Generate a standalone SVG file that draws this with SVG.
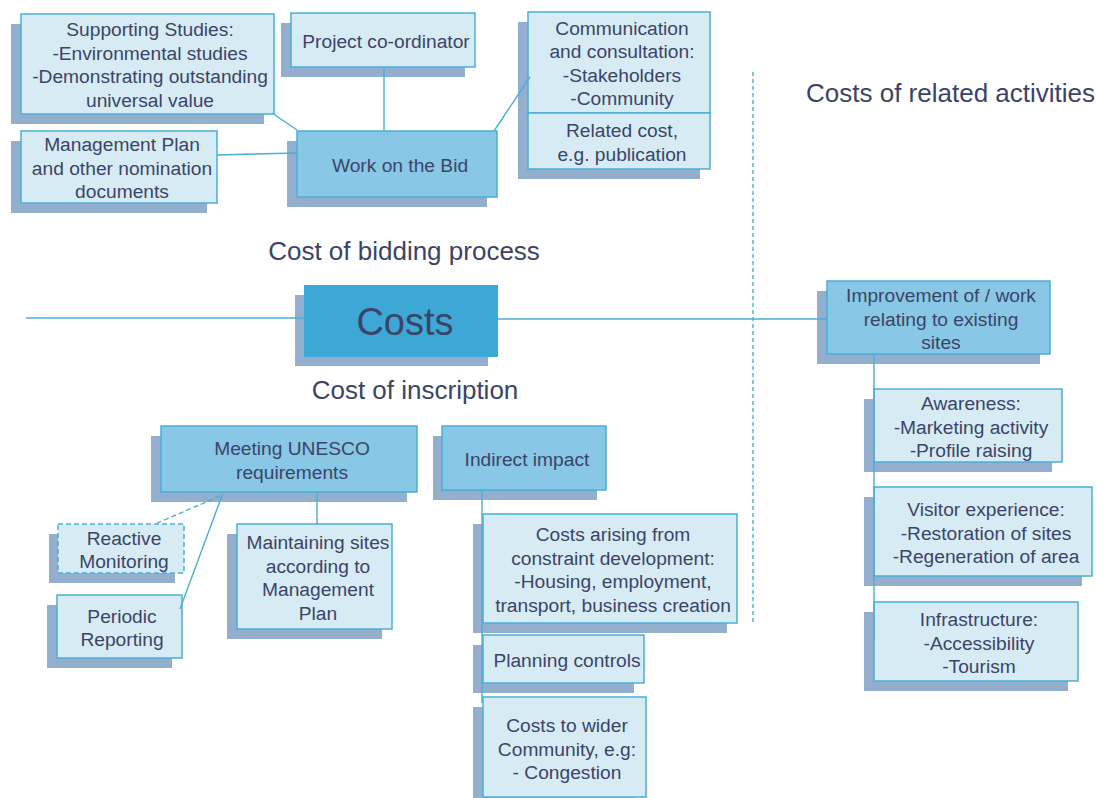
<svg xmlns="http://www.w3.org/2000/svg" width="1097" height="798" viewBox="0 0 1097 798">
<style>
.sh{fill:#93afcd;}
.lt{fill:#d7ebf5;stroke:#4aaed9;stroke-width:1.5;}
.md{fill:#88c7e5;stroke:#4aaed9;stroke-width:1.5;}
.main{fill:#3da8d6;}
.dash{stroke-dasharray:5 3;}
text{font-family:"Liberation Sans",Arial,sans-serif;fill:#3b4468;}
.t{font-size:19.2px;text-anchor:middle;}
.h{font-size:26px;}
.c{stroke:#4aaed9;stroke-width:1.4;fill:none;}
</style>
<rect width="1097" height="798" fill="#ffffff"/>
<g id="labels">
<text class="h" x="404" y="260" text-anchor="middle">Cost of bidding process</text>
<text class="h" x="415" y="399" text-anchor="middle">Cost of inscription</text>
<text class="h" x="806" y="102">Costs of related activities</text>
</g>
<g id="supporting-studies">
<rect class="sh" x="11" y="24" width="253" height="100"/>
<rect class="lt" x="21" y="14" width="253" height="100"/>
<text class="t" x="150" y="36"><tspan x="150">Supporting Studies:</tspan><tspan x="150" dy="23.5">-Environmental studies</tspan><tspan x="150" dy="23.5">-Demonstrating outstanding</tspan><tspan x="150" dy="23.5">universal value</tspan></text>
</g>
<g id="project-coordinator">
<rect class="sh" x="281" y="23" width="184" height="54"/>
<rect class="lt" x="291" y="13" width="184" height="54"/>
<text class="t" x="386" y="47.5">Project co-ordinator</text>
</g>
<g id="communication">
<rect class="sh" x="518" y="22" width="182" height="101"/>
<rect class="lt" x="528" y="12" width="182" height="101"/>
<text class="t" x="622" y="34.5"><tspan x="622">Communication</tspan><tspan x="622" dy="23.5">and consultation:</tspan><tspan x="622" dy="23.5">-Stakeholders</tspan><tspan x="622" dy="23.5">-Community</tspan></text>
</g>
<g id="related-cost">
<rect class="sh" x="518" y="123" width="182" height="56"/>
<rect class="lt" x="528" y="113" width="182" height="56"/>
<text class="t" x="622" y="137"><tspan x="622">Related cost,</tspan><tspan x="622" dy="23.5">e.g. publication</tspan></text>
</g>
<g id="management-plan">
<rect class="sh" x="11" y="141" width="196" height="72"/>
<rect class="lt" x="21" y="131" width="196" height="72"/>
<text class="t" x="122" y="151"><tspan x="122">Management Plan</tspan><tspan x="122" dy="23.5">and other nomination</tspan><tspan x="122" dy="23.5">documents</tspan></text>
</g>
<g id="work-on-the-bid">
<rect class="sh" x="287" y="141" width="200" height="66"/>
<rect class="md" x="297" y="131" width="200" height="66"/>
<text class="t" x="400" y="171.5">Work on the Bid</text>
</g>
<g id="costs">
<rect class="sh" x="295" y="295" width="193" height="71"/>
<rect class="main" x="304" y="285" width="194" height="72"/>
<text x="405" y="335" font-size="38" text-anchor="middle">Costs</text>
</g>
<g id="improvement">
<rect class="sh" x="817" y="291" width="223" height="73"/>
<rect class="md" x="827" y="281" width="223" height="73"/>
<text class="t" x="941" y="302"><tspan x="941">Improvement of / work</tspan><tspan x="941" dy="23.5">relating to existing</tspan><tspan x="941" dy="23.5">sites</tspan></text>
</g>
<g id="awareness">
<rect class="sh" x="864" y="399" width="188" height="73"/>
<rect class="lt" x="874" y="389" width="188" height="73"/>
<text class="t" x="971" y="410"><tspan x="971">Awareness:</tspan><tspan x="971" dy="23.5">-Marketing activity</tspan><tspan x="971" dy="23.5">-Profile raising</tspan></text>
</g>
<g id="visitor-experience">
<rect class="sh" x="864" y="497" width="218" height="89"/>
<rect class="lt" x="874" y="487" width="218" height="89"/>
<text class="t" x="986" y="516"><tspan x="986">Visitor experience:</tspan><tspan x="986" dy="23.5">-Restoration of sites</tspan><tspan x="986" dy="23.5">-Regeneration of area</tspan></text>
</g>
<g id="infrastructure">
<rect class="sh" x="864" y="612" width="204" height="79"/>
<rect class="lt" x="874" y="602" width="204" height="79"/>
<text class="t" x="979" y="626"><tspan x="979">Infrastructure:</tspan><tspan x="979" dy="23.5">-Accessibility</tspan><tspan x="979" dy="23.5">-Tourism</tspan></text>
</g>
<g id="meeting-unesco">
<rect class="sh" x="151" y="436" width="256" height="66"/>
<rect class="md" x="161" y="426" width="256" height="66"/>
<text class="t" x="292" y="455"><tspan x="292">Meeting UNESCO</tspan><tspan x="292" dy="23.5">requirements</tspan></text>
</g>
<g id="indirect-impact">
<rect class="sh" x="433" y="436" width="164" height="64"/>
<rect class="md" x="442" y="426" width="164" height="64"/>
<text class="t" x="527" y="466">Indirect impact</text>
</g>
<g id="reactive-monitoring">
<rect class="sh" x="49" y="534" width="126" height="49"/>
<rect class="lt dash" x="58" y="524" width="126" height="49"/>
<text class="t" x="124" y="544.5"><tspan x="124">Reactive</tspan><tspan x="124" dy="23.5">Monitoring</tspan></text>
</g>
<g id="periodic-reporting">
<rect class="sh" x="47" y="605" width="125" height="63"/>
<rect class="lt" x="57" y="595" width="125" height="63"/>
<text class="t" x="122" y="622.5"><tspan x="122">Periodic</tspan><tspan x="122" dy="23.5">Reporting</tspan></text>
</g>
<g id="maintaining-sites">
<rect class="sh" x="227" y="534" width="155" height="105"/>
<rect class="lt" x="237" y="524" width="155" height="105"/>
<text class="t" x="318" y="549"><tspan x="318">Maintaining sites</tspan><tspan x="318" dy="23.5">according to</tspan><tspan x="318" dy="23.5">Management</tspan><tspan x="318" dy="23.5">Plan</tspan></text>
</g>
<g id="costs-arising">
<rect class="sh" x="473" y="524" width="254" height="109"/>
<rect class="lt" x="483" y="514" width="254" height="109"/>
<text class="t" x="613" y="541"><tspan x="613">Costs arising from</tspan><tspan x="613" dy="23.5">constraint development:</tspan><tspan x="613" dy="23.5">-Housing, employment,</tspan><tspan x="613" dy="23.5">transport, business creation</tspan></text>
</g>
<g id="planning-controls">
<rect class="sh" x="473" y="645" width="161" height="48"/>
<rect class="lt" x="483" y="635" width="161" height="48"/>
<text class="t" x="567" y="667">Planning controls</text>
</g>
<g id="costs-wider-community">
<rect class="sh" x="473" y="707" width="163" height="100"/>
<rect class="lt" x="483" y="697" width="163" height="100"/>
<text class="t" x="567" y="732"><tspan x="567">Costs to wider</tspan><tspan x="567" dy="23.5">Community, e.g:</tspan><tspan x="567" dy="23.5">- Congestion</tspan></text>
</g>
<g id="connectors">
<line class="c" x1="272" y1="113" x2="297" y2="130"/>
<line class="c" x1="217" y1="155" x2="297" y2="153"/>
<line class="c" x1="384" y1="67" x2="384" y2="131"/>
<line class="c" x1="494" y1="131" x2="530" y2="77"/>
<line class="c" x1="26" y1="318" x2="304" y2="318"/>
<line class="c" x1="498" y1="319" x2="827" y2="319"/>
<line class="c" x1="874" y1="354" x2="874" y2="640"/>
<line class="c" x1="317" y1="492" x2="317" y2="524"/>
<line class="c" x1="223" y1="493" x2="180" y2="609"/>
<line class="c dash" x1="220" y1="496" x2="155" y2="524"/>
<line class="c" x1="482" y1="490" x2="482" y2="703"/>
<line class="c" x1="753" y1="72" x2="753" y2="623" stroke-dasharray="4 3"/>
</g>
</svg>
